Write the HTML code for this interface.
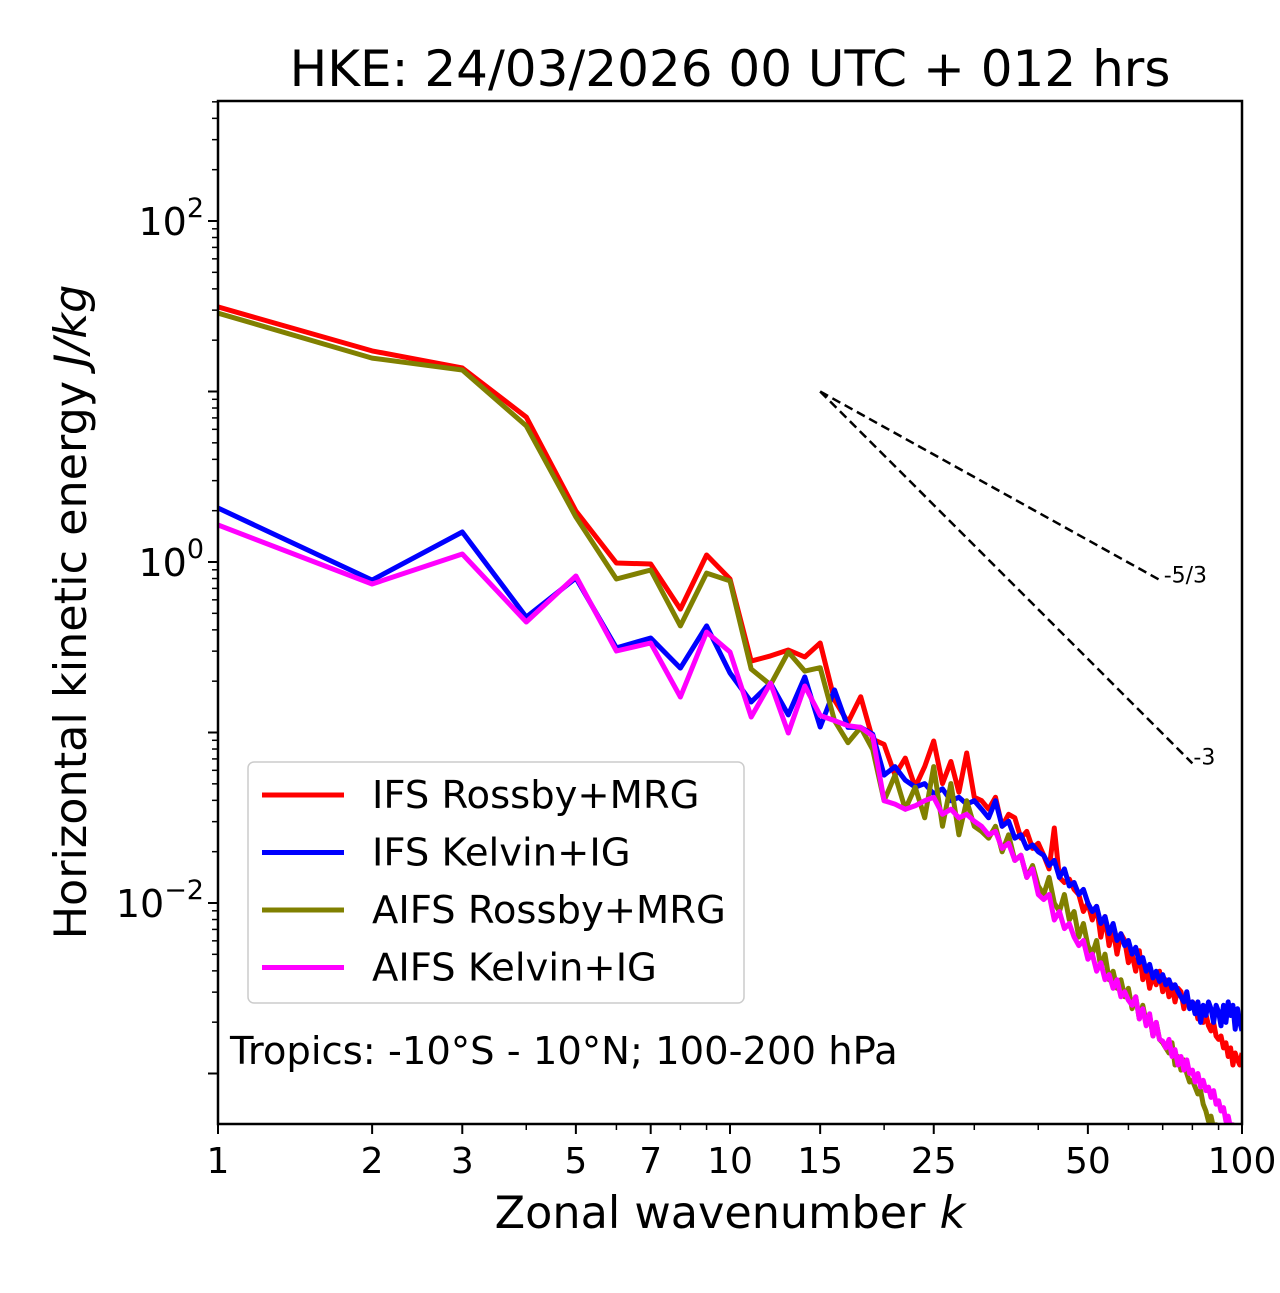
<!DOCTYPE html>
<html><head><meta charset="utf-8"><style>
body{margin:0;background:#fff}
svg text{font-family:"DejaVu Sans","Liberation Sans",sans-serif}
</style></head><body>
<svg id="chart" width="1280" height="1288" xmlns="http://www.w3.org/2000/svg">
<rect width="1280" height="1288" fill="#fff"/>
<text x="730" y="86" font-size="50" text-anchor="middle">HKE: 24/03/2026 00 UTC + 012 hrs</text>
<g id="plot"></g>
<text x="730" y="1228" font-size="44.5" text-anchor="middle">Zonal wavenumber <tspan font-style="italic">k</tspan></text>
<text transform="translate(86,612) rotate(-90)" font-size="44.5" text-anchor="middle">Horizontal kinetic energy <tspan font-style="italic">J/kg</tspan></text>
</svg>
<script>
const xTickValues=[1,2,3,5,7,10,15,25,50,100];
const xTickLabels=["1","2","3","5","7","10","15","25","50","100"];
const xMinorValues=[4,6,8,9,20,30,40,60,70,80,90];
const yDecades=[-3,-2,-1,0,1,2];
const yLabelDecades=[-2,0,2];
const slopeRefs=[{slope:-5/3,label:"-5/3",kEnd:70},{slope:-3,label:"-3",kEnd:80}];
const slopeStartK=15, slopeStartLog=1.0;
const seriesNames=["IFS Rossby+MRG","IFS Kelvin+IG","AIFS Rossby+MRG","AIFS Kelvin+IG"];
const seriesColors=["#ff0000","#0000ff","#808000","#ff00ff"];
// log10 energy, k = 1..100
const ifsRossbyLog=[1.496,1.238,1.138,0.850,0.299,-0.006,-0.012,-0.276,0.041,-0.100,-0.581,-0.551,-0.516,-0.557,-0.475,-0.81,-0.94,-0.79,-1.04,-1.07,
-1.25,-1.15,-1.32,-1.20,-1.05,-1.30,-1.17,-1.35,-1.12,-1.38,
-1.40,-1.45,-1.38,-1.55,-1.48,-1.50,-1.62,-1.58,-1.68,-1.65,
-1.72,-1.80,-1.56,-1.85,-1.88,-1.86,-1.92,-1.95,-2.05,-2.00,
-2.10,-2.02,-2.20,-2.08,-2.25,-2.15,-2.30,-2.18,-2.22,-2.35,
-2.30,-2.40,-2.28,-2.45,-2.38,-2.50,-2.42,-2.48,-2.40,-2.52,
-2.45,-2.55,-2.48,-2.58,-2.50,-2.52,-2.62,-2.55,-2.60,-2.58,
-2.60,-2.68,-2.62,-2.70,-2.65,-2.72,-2.75,-2.70,-2.78,-2.80,
-2.78,-2.85,-2.82,-2.90,-2.85,-2.95,-2.88,-2.92,-2.95,-2.88];
const ifsKelvinLog=[0.317,-0.106,0.176,-0.323,-0.094,-0.504,-0.446,-0.622,-0.375,-0.651,-0.821,-0.710,-0.897,-0.674,-0.968,-0.75,-0.97,-0.97,-1.01,-1.25,
-1.20,-1.28,-1.32,-1.30,-1.36,-1.33,-1.40,-1.38,-1.42,-1.40,
-1.45,-1.50,-1.40,-1.55,-1.52,-1.62,-1.60,-1.68,-1.66,-1.70,
-1.72,-1.78,-1.75,-1.85,-1.80,-1.90,-1.88,-1.95,-1.92,-2.00,
-2.05,-2.02,-2.12,-2.08,-2.18,-2.12,-2.22,-2.18,-2.25,-2.22,
-2.30,-2.26,-2.35,-2.32,-2.40,-2.36,-2.44,-2.40,-2.46,-2.42,
-2.48,-2.45,-2.50,-2.48,-2.52,-2.55,-2.58,-2.52,-2.62,-2.58,
-2.65,-2.58,-2.70,-2.60,-2.66,-2.58,-2.62,-2.70,-2.60,-2.64,
-2.72,-2.60,-2.70,-2.58,-2.66,-2.60,-2.74,-2.62,-2.70,-2.75];
const aifsRossbyLog=[1.460,1.196,1.126,0.798,0.264,-0.100,-0.047,-0.375,-0.065,-0.111,-0.628,-0.72,-0.528,-0.64,-0.62,-0.93,-1.06,-0.97,-1.10,-1.40,
-1.25,-1.45,-1.32,-1.50,-1.20,-1.55,-1.30,-1.60,-1.40,-1.55,
-1.58,-1.62,-1.55,-1.70,-1.60,-1.75,-1.72,-1.85,-1.78,-1.90,
-1.95,-1.85,-2.00,-2.05,-1.95,-2.10,-2.05,-2.20,-2.12,-2.25,
-2.30,-2.22,-2.38,-2.30,-2.45,-2.40,-2.50,-2.45,-2.55,-2.50,
-2.62,-2.55,-2.68,-2.60,-2.70,-2.66,-2.78,-2.70,-2.80,-2.82,
-2.85,-2.88,-2.82,-2.95,-2.90,-2.98,-2.92,-3.00,-3.05,-3.04,
-3.08,-3.12,-3.10,-3.18,-3.22,-3.28,-3.25,-3.32,-3.30,-3.36,
-3.40,-3.42,-3.45,-3.48,-3.50,-3.52,-3.55,-3.58,-3.60,-3.62];
const aifsKelvinLog=[0.217,-0.129,0.047,-0.352,-0.082,-0.522,-0.475,-0.792,-0.411,-0.528,-0.909,-0.710,-1.003,-0.727,-0.90,-0.93,-0.96,-0.97,-1.02,-1.40,
-1.42,-1.45,-1.43,-1.40,-1.38,-1.48,-1.45,-1.50,-1.48,-1.52,
-1.55,-1.60,-1.58,-1.68,-1.65,-1.75,-1.72,-1.85,-1.80,-1.95,
-1.98,-1.95,-2.10,-2.05,-2.15,-2.12,-2.20,-2.25,-2.22,-2.33,
-2.30,-2.40,-2.35,-2.45,-2.42,-2.50,-2.45,-2.55,-2.52,-2.57,
-2.60,-2.55,-2.68,-2.62,-2.72,-2.65,-2.78,-2.70,-2.80,-2.81,
-2.85,-2.80,-2.90,-2.86,-2.95,-2.90,-2.98,-2.92,-3.00,-2.98,
-3.05,-3.00,-3.08,-3.04,-3.10,-3.08,-3.14,-3.10,-3.18,-3.16,
-3.22,-3.20,-3.28,-3.25,-3.32,-3.30,-3.38,-3.40,-3.45,-3.48];
const seriesData=[ifsRossbyLog,ifsKelvinLog,aifsRossbyLog,aifsKelvinLog];

const NS="http://www.w3.org/2000/svg";
const L=218,R=1242,T=101,B=1124;
const Y0=562, PPD=170.5;
function xs(k){return L+(R-L)/2*Math.log10(k);}
function ys(lg){return Y0-PPD*lg;}
const plot=document.getElementById('plot');
function mk(tag,attrs,parent){const e=document.createElementNS(NS,tag);for(const a in attrs)e.setAttribute(a,attrs[a]);(parent||plot).appendChild(e);return e;}

const defs=mk('defs',{});
const cp=mk('clipPath',{id:'clip'},defs);mk('rect',{x:L,y:T,width:R-L,height:B-T},cp);

const sg=mk('g',{'clip-path':'url(#clip)'});
seriesData.forEach((arr,i)=>{
  const pts=arr.map((v,j)=>xs(j+1).toFixed(1)+','+ys(v).toFixed(1)).join(' ');
  const pl=mk('polyline',{points:pts,fill:'none',stroke:seriesColors[i],'stroke-width':5,'stroke-linejoin':'round'},sg);
  
  
});
slopeRefs.forEach((s,i)=>{
  const lgEnd=slopeStartLog+s.slope*Math.log10(s.kEnd/slopeStartK);
  const ln=mk('line',{x1:xs(slopeStartK),y1:ys(slopeStartLog),x2:xs(s.kEnd),y2:ys(lgEnd),stroke:'#000','stroke-width':2.5,'stroke-dasharray':'9,5'});
  
  
  const t=mk('text',{x:xs(s.kEnd)+1,y:ys(lgEnd)+1,'font-size':22});
  t.textContent=s.label;
  
  
});
const fr=mk('rect',{x:L,y:T,width:R-L,height:B-T,fill:'none',stroke:'#000','stroke-width':2.5});


xTickValues.forEach((v,i)=>{
  const x=xs(v);
  mk('line',{x1:x,x2:x,y1:B,y2:B+10,stroke:'#000','stroke-width':2});
  const t=mk('text',{x:x,y:B+49,'font-size':36,'text-anchor':'middle'});
  t.textContent=xTickLabels[i];
  
  
});
xMinorValues.forEach(v=>{const x=xs(v);mk('line',{x1:x,x2:x,y1:B,y2:B+6,stroke:'#000','stroke-width':1.5});});
yDecades.forEach(d=>{
  const y=ys(d);
  if(y>=T&&y<=B) mk('line',{x1:L-10,x2:L,y1:y,y2:y,stroke:'#000','stroke-width':2});
  for(let m=2;m<=9;m++){const yy=ys(d+Math.log10(m));if(yy>=T&&yy<=B)mk('line',{x1:L-6,x2:L,y1:yy,y2:yy,stroke:'#000','stroke-width':1.5});}
});
yLabelDecades.forEach(d=>{
  const t=mk('text',{x:L-14,y:ys(d)+14,'font-size':38,'text-anchor':'end'});
  t.innerHTML='10<tspan dy="-18" font-size="27">'+(d<0?'\u2212'+(-d):d)+'</tspan>';
  
  
});
const lg=mk('g',{});


mk('rect',{x:248,y:762,width:496,height:241,rx:6,fill:'#fff','fill-opacity':0.8,stroke:'#ccc','stroke-width':1.5},lg);
seriesNames.forEach((n,i)=>{
  const y=795+i*57.5;
  const e=mk('g',{},lg);
  
  
  mk('line',{x1:262,x2:344,y1:y,y2:y,stroke:seriesColors[i],'stroke-width':5},e);
  const t=mk('text',{x:372,y:y+13,'font-size':38.5},e);t.textContent=n;
});
const ann=mk('text',{x:230,y:1064,'font-size':38.5});
ann.textContent='Tropics: -10°S - 10°N; 100-200 hPa';


</script>
</body></html>
